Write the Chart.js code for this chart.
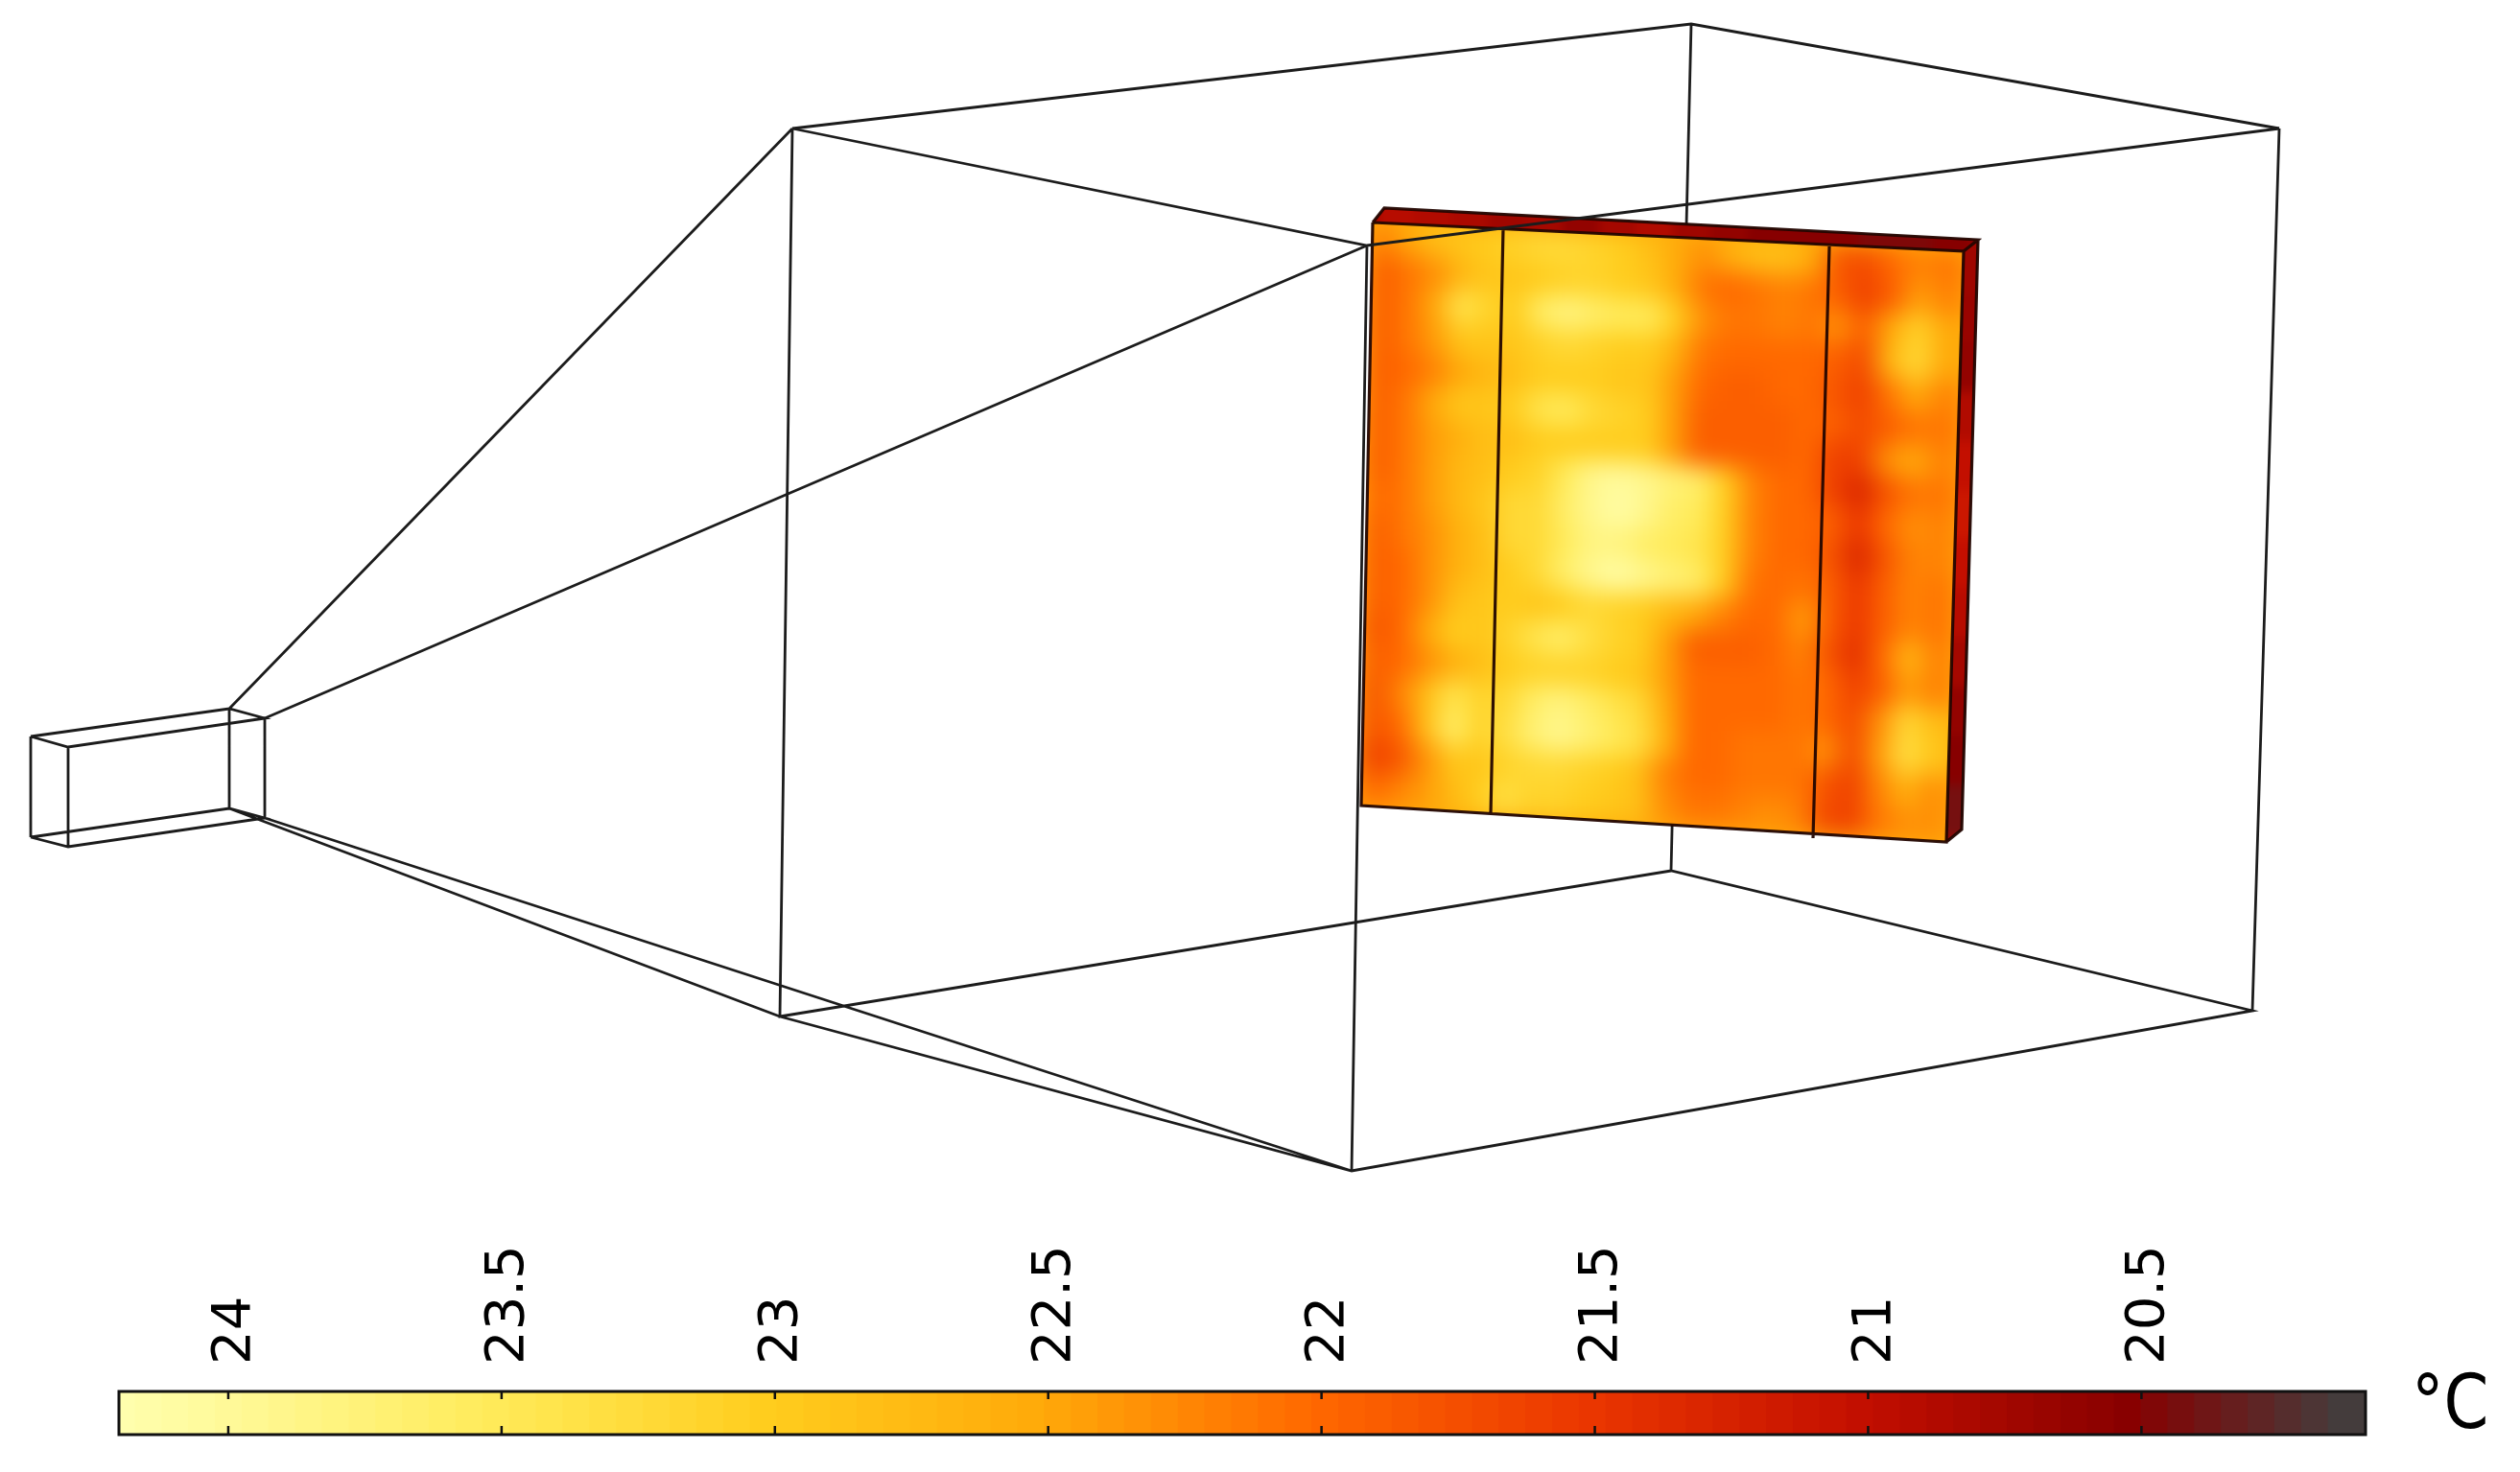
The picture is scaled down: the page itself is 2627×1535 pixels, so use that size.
<!DOCTYPE html>
<html>
<head>
<meta charset="utf-8">
<title>Temperature on panel</title>
<script src="https://cdn.jsdelivr.net/npm/chart.js@4"></script>
<style>
  html, body { margin: 0; background: #fff; overflow: hidden; }
  canvas { position: absolute; left: 0; }
  #scene { top: 0; filter: blur(0.6px); }
  #colorbar { top: 1280px; filter: blur(0.6px); }
</style>
</head>
<body>
<canvas id="scene" width="2627" height="1280"></canvas>
<canvas id="colorbar" width="2627" height="255"></canvas>
<script>
// Colour scale
const colorStopTemps = [20.09, 20.5, 21, 21.5, 22, 22.5, 23, 23.5, 24, 24.2];
const colorStopRed = [64, 135, 195, 235, 255, 255, 255, 255, 255, 255];
const colorStopGreen = [64, 0, 15, 55, 105, 170, 205, 235, 250, 255];
const colorStopBlue = [64, 0, 0, 0, 0, 10, 30, 90, 155, 175];
const colorbarTicks = [24, 23.5, 23, 22.5, 22, 21.5, 21, 20.5];
const colorbarUnit = '°C';

// Wireframe polylines, in picture units
const backWires = [
  [[826, 134], [1763, 25], [2376, 134]],
  [[1763, 25], [1742, 908]],
  [[826, 134], [813, 1060], [1742, 908], [2348, 1054], [1409, 1221], [813, 1060]],
  [[2376, 134], [2348, 1054]],
  [[32, 768], [71, 779], [276, 749], [239, 739], [32, 768]],
  [[32, 873], [71, 883], [276, 853], [239, 843], [32, 873]],
  [[32, 768], [32, 873]],
  [[71, 779], [71, 883]],
  [[239, 739], [239, 843]],
  [[276, 749], [276, 853]],
  [[239, 739], [826, 134]],
  [[239, 843], [813, 1060]],
  [[276, 853], [1409, 1221]]
];
const frontWires = [
  [[826, 134], [1425, 256], [2376, 134]],
  [[276, 749], [1425, 256]],
  [[1425, 256], [1409, 1221]]
];
const panelWires = [
  [[1431, 232], [2047, 262], [2029, 878], [1419, 840], [1431, 232]],
  [[1431, 232], [1443, 217], [2062, 250], [2047, 262]],
  [[2062, 250], [2045, 865], [2029, 878]],
  [[1567, 238], [1554, 849]],
  [[1907, 257], [1890, 874]]
];

// Panel surfaces, corners clockwise from top left
const faceCorners = [[1431, 232], [2047, 262], [2029, 878], [1419, 840]];
const topCorners = [[1443, 217], [2062, 250], [2047, 262], [1431, 232]];
const sideCorners = [[2047, 262], [2062, 250], [2045, 865], [2029, 878]];

const faceTemps = [
  [22.2,22.5,22.8,22.9,23.0,23.1,23.2,23.2,23.1,23.0,22.8,22.5,22.3,22.6,22.8,22.8,22.5,21.8,21.7,22.0,22.2,22.1],
  [21.9,22.1,22.3,22.7,22.9,22.9,23.0,23.1,23.1,23.0,22.9,22.5,22.1,22.0,22.1,22.2,22.1,21.9,21.6,21.9,22.4,22.2],
  [21.9,22.1,22.5,23.4,23.1,23.0,23.6,23.8,23.6,23.5,23.5,23.0,22.3,22.1,22.1,22.2,22.1,22.3,21.9,22.5,23.1,22.5],
  [21.9,22.1,22.4,22.9,22.9,22.9,23.1,23.2,23.1,23.0,23.0,22.6,22.1,22.0,22.0,22.0,22.0,21.9,21.7,22.7,23.2,22.5],
  [21.9,22.0,22.2,22.5,22.7,22.8,23.0,23.0,23.0,22.9,22.9,22.4,22.0,21.9,21.9,22.0,22.0,21.8,21.6,22.1,22.5,22.2],
  [21.9,22.1,22.5,22.9,22.9,23.0,23.4,23.5,23.2,23.1,23.0,22.4,21.9,21.9,21.9,21.9,22.0,21.9,21.7,21.9,22.1,22.1],
  [21.9,22.1,22.4,22.6,22.8,22.8,23.0,23.0,23.0,23.0,23.0,22.4,21.9,21.9,21.9,21.9,22.0,21.6,21.6,22.3,22.5,22.2],
  [21.9,22.1,22.4,22.7,22.8,23.0,23.1,23.5,23.9,24.0,23.9,23.7,23.6,23.0,22.2,22.0,22.0,21.6,21.3,21.8,22.1,22.1],
  [22.0,22.1,22.4,22.7,22.9,23.2,23.2,23.6,23.9,24.1,23.9,23.6,23.5,23.0,22.2,22.0,22.0,21.9,21.5,22.0,22.3,22.2],
  [21.9,22.1,22.3,22.6,22.8,23.2,23.2,23.5,23.8,23.8,23.6,23.5,23.4,23.0,22.2,22.0,22.0,21.8,21.3,21.8,22.2,22.2],
  [21.9,22.0,22.3,22.6,22.8,23.0,23.2,23.6,23.9,24.1,23.9,23.7,23.6,23.0,22.1,22.0,22.1,21.9,21.5,21.9,22.2,22.1],
  [21.9,22.0,22.3,22.8,22.9,23.0,22.9,23.0,23.2,23.1,23.0,22.7,22.5,22.2,22.0,22.0,22.4,21.9,21.5,21.9,22.2,22.1],
  [21.8,22.0,22.5,23.0,22.9,23.1,23.4,23.6,23.3,23.1,23.0,22.4,21.9,21.9,21.9,22.0,22.2,21.8,21.4,22.0,22.7,22.2],
  [21.9,22.0,22.3,22.6,22.8,23.0,23.1,23.1,23.1,23.0,22.9,22.4,22.0,22.0,22.0,22.0,22.1,22.0,21.6,21.9,22.4,22.2],
  [21.8,22.2,22.8,23.4,23.1,23.2,23.6,23.8,23.6,23.4,23.2,22.5,22.0,22.0,22.0,22.0,22.1,22.0,21.7,22.3,23.2,22.8],
  [21.8,22.0,22.8,23.6,23.1,23.3,23.7,23.9,23.7,23.5,23.3,22.6,22.0,22.0,22.1,22.1,22.1,22.3,21.7,22.4,23.3,22.9],
  [21.6,21.8,22.3,22.9,22.9,23.1,23.2,23.2,23.1,23.0,22.8,22.2,22.0,22.0,22.1,22.1,22.1,21.8,21.6,22.2,22.6,22.3],
  [22.0,22.2,22.4,22.7,23.0,23.3,23.1,23.1,23.0,22.9,22.8,22.3,22.1,22.1,22.2,22.3,22.2,21.7,21.6,22.1,22.3,22.3]
];
const topTemps = [
  [20.9,20.85,20.8,20.7,20.75,20.6,20.75,20.85,20.7,20.6,20.5,20.5,20.5,20.45,20.45,20.5]
];
const sideTemps = [[20.7],[20.65],[20.6],[20.85],[21.0],[21.1],[21.0],[20.9],[20.75],[20.6],[20.5],[20.4]];

function tempColor(t) {
  let i = 0;
  while (i < colorStopTemps.length - 2 && t > colorStopTemps[i + 1]) i++;
  const f = Math.min(1, Math.max(0, (t - colorStopTemps[i]) / (colorStopTemps[i + 1] - colorStopTemps[i])));
  const mix = arr => Math.round(arr[i] + (arr[i + 1] - arr[i]) * f);
  return `rgb(${mix(colorStopRed)},${mix(colorStopGreen)},${mix(colorStopBlue)})`;
}

function lerp(a, b, f) {
  return [a[0] + (b[0] - a[0]) * f, a[1] + (b[1] - a[1]) * f];
}

// One point per table cell, placed inside the four corners
function surfaceDataset(temps, corners, blur, order) {
  const rows = temps.length;
  const cols = temps[0].length;
  const points = [];
  const colors = [];
  temps.forEach((row, r) => {
    row.forEach((t, c) => {
      const left = lerp(corners[0], corners[3], (r + 0.5) / rows);
      const right = lerp(corners[1], corners[2], (r + 0.5) / rows);
      const p = lerp(left, right, (c + 0.5) / cols);
      points.push({ x: p[0], y: p[1] });
      colors.push(tempColor(t));
    });
  });
  const all = temps.flat();
  const width = Math.hypot(corners[1][0] - corners[0][0], corners[1][1] - corners[0][1]) / cols;
  const height = Math.hypot(corners[3][0] - corners[0][0], corners[3][1] - corners[0][1]) / rows;
  return {
    data: points,
    pointStyle: 'rect',
    pointRadius: Math.max(width, height) * 0.75,
    pointBorderWidth: 0,
    pointBackgroundColor: colors,
    showLine: false,
    order,
    surface: { corners, blur, base: tempColor(all.reduce((s, v) => s + v, 0) / all.length) }
  };
}

function wireDataset(wires, color, width, order) {
  const data = [];
  wires.forEach(line => {
    line.forEach(p => data.push({ x: p[0], y: p[1] }));
    data.push({ x: NaN, y: NaN });
  });
  return {
    data,
    showLine: true,
    spanGaps: false,
    borderColor: color,
    borderWidth: width,
    pointRadius: 0,
    order
  };
}

// Draws the surface points on a spare canvas, then copies them back softened
const softSurface = {
  id: 'softSurface',
  beforeDatasetDraw(chart, args) {
    const surface = chart.data.datasets[args.index].surface;
    if (!surface) return;
    const spare = document.createElement('canvas');
    spare.width = chart.width;
    spare.height = chart.height;
    const sctx = spare.getContext('2d');
    sctx.fillStyle = surface.base;
    sctx.fillRect(0, 0, spare.width, spare.height);
    args.meta.data.forEach(point => point.draw(sctx));

    const ctx = chart.ctx;
    const sx = chart.scales.x;
    const sy = chart.scales.y;
    ctx.save();
    ctx.beginPath();
    surface.corners.forEach(c => ctx.lineTo(sx.getPixelForValue(c[0]), sy.getPixelForValue(c[1])));
    ctx.closePath();
    ctx.clip();
    ctx.filter = `blur(${surface.blur}px)`;
    ctx.drawImage(spare, 0, 0);
    ctx.restore();
    return false;
  }
};

new Chart(document.getElementById('scene'), {
  type: 'scatter',
  data: {
    datasets: [
      wireDataset(backWires, '#1c1c1c', 2.8, 5),
      surfaceDataset(faceTemps, faceCorners, 13, 4),
      surfaceDataset(topTemps, topCorners, 5, 3),
      surfaceDataset(sideTemps, sideCorners, 6, 3),
      wireDataset(panelWires, 'rgba(35,5,0,0.95)', 3.2, 2),
      wireDataset(frontWires, '#1c1c1c', 2.8, 1)
    ]
  },
  options: {
    responsive: false,
    animation: false,
    layout: { padding: 0, autoPadding: false },
    plugins: { legend: { display: false }, tooltip: { enabled: false } },
    scales: {
      x: { type: 'linear', min: 0, max: 2627, display: false },
      y: { type: 'linear', min: 0, max: 1280, reverse: true, display: false }
    }
  },
  plugins: [softSurface]
});

// Colour bar
const barMin = colorStopTemps[0];
const barMax = colorStopTemps[colorStopTemps.length - 1];
const barStep = (barMax - barMin) / 84;
const barSegments = [];
for (let i = 0; i < 84; i++) {
  const lo = barMin + i * barStep;
  barSegments.push({
    data: [[lo, Math.min(barMax, lo + barStep * 1.4)]],
    backgroundColor: tempColor(lo + barStep / 2),
    borderWidth: 0,
    grouped: false,
    barPercentage: 1,
    categoryPercentage: 1
  });
}

const barFrame = {
  id: 'barFrame',
  afterDraw(chart) {
    const { ctx, chartArea: area } = chart;
    const sx = chart.scales.x;
    ctx.save();
    ctx.strokeStyle = '#111';
    ctx.lineWidth = 2.5;
    colorbarTicks.forEach(t => {
      const x = sx.getPixelForValue(t);
      ctx.beginPath();
      ctx.moveTo(x, area.top);
      ctx.lineTo(x, area.top + 8);
      ctx.moveTo(x, area.bottom);
      ctx.lineTo(x, area.bottom - 9);
      ctx.stroke();
    });
    ctx.lineWidth = 3;
    ctx.strokeRect(area.left, area.top, area.right - area.left, area.bottom - area.top);
    ctx.fillStyle = '#000';
    ctx.font = '78px "DejaVu Sans"';
    ctx.textBaseline = 'alphabetic';
    ctx.textAlign = 'left';
    ctx.translate(2514, 209);
    ctx.scale(0.86, 1);
    ctx.fillText(colorbarUnit, 0, 0);
    ctx.restore();
  }
};

new Chart(document.getElementById('colorbar'), {
  type: 'bar',
  data: { labels: ['T'], datasets: barSegments },
  options: {
    indexAxis: 'y',
    responsive: false,
    animation: false,
    layout: { padding: { left: 124, right: 161, top: 0, bottom: 39 } },
    plugins: { legend: { display: false }, tooltip: { enabled: false } },
    scales: {
      y: { display: false },
      x: {
        type: 'linear',
        position: 'top',
        reverse: true,
        min: barMin,
        max: barMax,
        afterFit(scale) { scale.height = 171; },
        afterBuildTicks(scale) { scale.ticks = colorbarTicks.map(value => ({ value })); },
        grid: { display: false, drawTicks: false },
        border: { display: false },
        ticks: {
          autoSkip: false,
          minRotation: 90,
          maxRotation: 90,
          padding: 28,
          labelOffset: 75,
          color: '#000',
          font: { family: 'DejaVu Sans', size: 56 },
          callback: value => String(value)
        }
      }
    }
  },
  plugins: [barFrame]
});
</script>
</body>
</html>
